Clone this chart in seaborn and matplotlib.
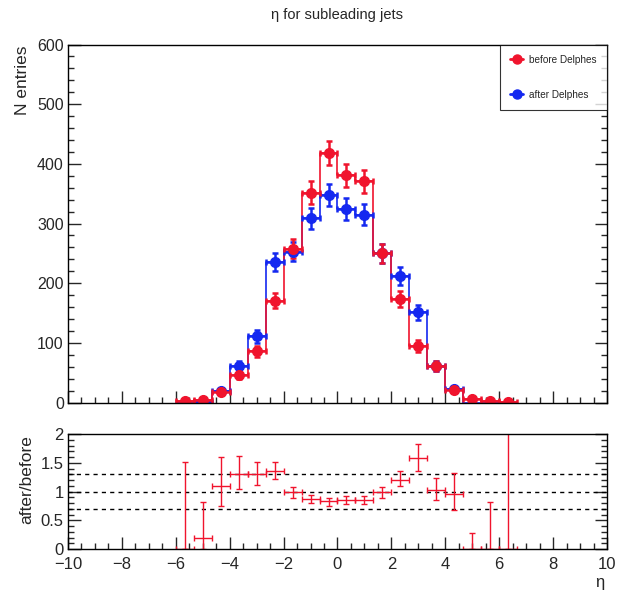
import numpy as np
import pandas as pd
import matplotlib
matplotlib.use('Agg')
import matplotlib.pyplot as plt
from matplotlib.ticker import MultipleLocator, FormatStrFormatter
from matplotlib.lines import Line2D
import seaborn as sns

# eta bin centres (bin width 2/3)
eta_centers = [-5.667, -5.0, -4.333, -3.667, -3.0, -2.333, -1.667, -1.0, -0.333,
               0.333, 1.0, 1.667, 2.333, 3.0, 3.667, 4.333, 5.0, 5.667, 6.333]
bin_half_width = 1.0 / 3.0

# entries per bin
n_before = [2, 5, 17, 46, 86, 171, 258, 352, 418, 381, 371, 250, 174, 95, 61, 21, 6, 2, 1]
n_after = [0, 1, 19, 62, 111, 236, 253, 309, 348, 324, 315, 250, 212, 151, 61, 22, 0, 0, 0]

# after/before ratio with asymmetric errors
ratio = [0.0, 0.19, 1.09, 1.30, 1.30, 1.36, 0.99, 0.875, 0.835, 0.847, 0.847,
         0.99, 1.20, 1.58, 1.03, 0.96, 0.0, 0.0, 0.0]
ratio_err_lo = [0.0, 0.19, 0.34, 0.26, 0.19, 0.14, 0.10, 0.08, 0.08, 0.07, 0.07,
                0.10, 0.10, 0.22, 0.18, 0.29, 0.0, 0.0, 0.0]
ratio_err_hi = [1.51, 0.63, 0.51, 0.31, 0.21, 0.15, 0.08, 0.06, 0.06, 0.07, 0.07,
                0.09, 0.16, 0.25, 0.21, 0.37, 0.27, 0.82, 2.5]
ref_lines = [0.7, 1.0, 1.3]

red = '#f0142d'
blue = '#1428f0'

sns.set_style('ticks')
plt.rcParams['font.family'] = ['Liberation Sans', 'DejaVu Sans']
plt.rcParams['axes.linewidth'] = 1.0

fig = plt.figure(figsize=(6.33, 5.93), dpi=100)
ax_top = fig.add_axes([0.1074, 0.3212, 0.8515, 0.6037])
ax_rat = fig.add_axes([0.1074, 0.0742, 0.8515, 0.1939])

centers = np.array(eta_centers)
edges = list(np.append(centers - bin_half_width, centers[-1] + bin_half_width))
before = np.array(n_before)
after = np.array(n_after)
df = pd.DataFrame({'eta': eta_centers, 'before': n_before, 'after': n_after})

# histogram outlines
sns.histplot(data=df, x='eta', weights='after', bins=edges, element='step', fill=False,
             color=blue, linewidth=1.2, ax=ax_top)
sns.histplot(data=df, x='eta', weights='before', bins=edges, element='step', fill=False,
             color=red, linewidth=1.2, ax=ax_top)

# points with errors
m = after > 0
ax_top.errorbar(centers[m], after[m], xerr=bin_half_width, yerr=np.sqrt(after[m]),
                fmt='o', color=blue, ms=7, elinewidth=1.8, capsize=2, capthick=1.8)
ax_top.errorbar(centers, before, xerr=bin_half_width, yerr=np.sqrt(before),
                fmt='o', color=red, ms=7, elinewidth=1.8, capsize=2, capthick=1.8)

ax_top.set_xlim(-10, 10)
ax_top.set_ylim(0, 600)
ax_top.set_xlabel('')
ax_top.set_ylabel('')
ax_top.xaxis.set_major_locator(MultipleLocator(2))
ax_top.xaxis.set_minor_locator(MultipleLocator(0.5))
ax_top.yaxis.set_major_locator(MultipleLocator(100))
ax_top.yaxis.set_minor_locator(MultipleLocator(20))
ax_top.tick_params(axis='x', labelbottom=False)
for ax, lsize in ((ax_top, 11.5), (ax_rat, 12)):
    ax.tick_params(which='major', direction='in', length=9, width=1, right=True,
                   labelsize=lsize, pad=3)
    ax.tick_params(which='minor', direction='in', length=4.5, width=1, right=True)
    for s in ax.spines.values():
        s.set_color('black')
ax_rat.tick_params(axis='x', pad=5.5)

handles = [Line2D([], [], color=red, marker='o', ms=6.5, lw=2),
           Line2D([], [], color=blue, marker='o', ms=6.5, lw=2)]
leg = ax_top.legend(handles, ['before Delphes', 'after Delphes'], loc='upper right',
                    bbox_to_anchor=(1.0, 1.0), borderaxespad=0, fontsize=7.2,
                    handlelength=1.3, handletextpad=0.6, labelspacing=2.5,
                    borderpad=1.0, frameon=True, fancybox=False)
leg.get_frame().set_edgecolor('black')
leg.get_frame().set_linewidth(0.8)

# ratio panel
for r in ref_lines:
    ax_rat.axhline(r, color='black', ls=(0, (3, 3)), lw=1)
ax_rat.errorbar(centers, ratio, xerr=bin_half_width, yerr=[ratio_err_lo, ratio_err_hi],
                fmt='none', ecolor=red, elinewidth=1, capsize=2, capthick=1)
ax_rat.set_xlim(-10, 10)
ax_rat.set_ylim(0, 2)
ax_rat.xaxis.set_major_locator(MultipleLocator(2))
ax_rat.xaxis.set_minor_locator(MultipleLocator(0.5))
ax_rat.yaxis.set_major_locator(MultipleLocator(0.5))
ax_rat.yaxis.set_minor_locator(MultipleLocator(0.1))
ax_rat.yaxis.set_major_formatter(FormatStrFormatter('%g'))

fig.text(0.533, 1 - 15 / 593, '\u03b7 for subleading jets', ha='center', va='center', fontsize=10.5)
fig.text(0.035, 0.924, 'N entries', rotation=90, ha='center', va='top', fontsize=12.5)
fig.text(0.043, 1 - 435 / 593, 'after/before', rotation=90, ha='center', va='top', fontsize=12.5)
fig.text(600 / 633, 1 - 582 / 593, '\u03b7', ha='center', va='center', fontsize=12)

fig.savefig('out.png', dpi=100)
